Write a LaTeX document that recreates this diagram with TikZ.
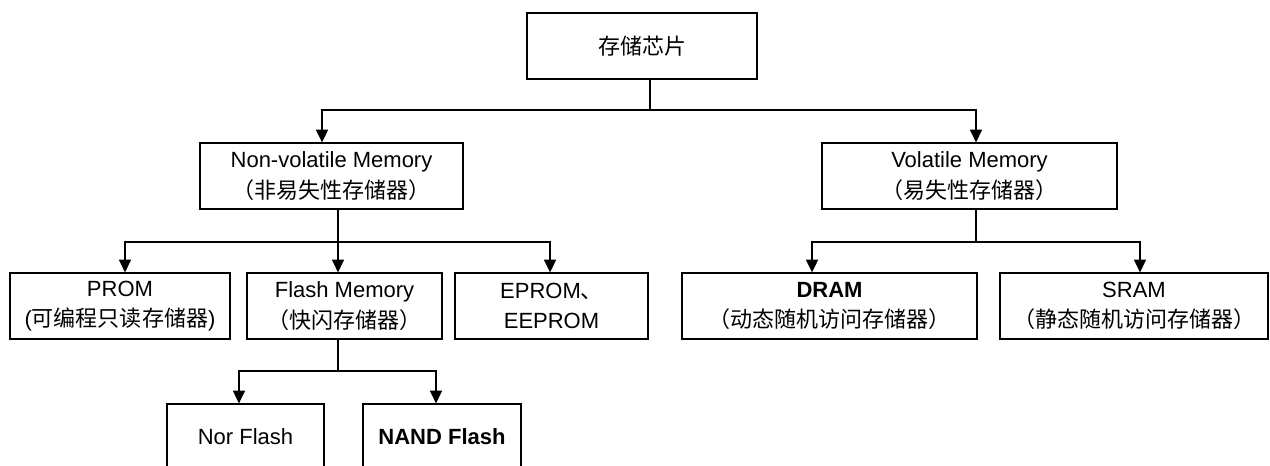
\documentclass[tikz,border=0pt]{standalone}
\usepackage{fontspec}
\setmainfont{Liberation Sans}
\newfontfamily\cjk{Noto Sans CJK SC}
\usetikzlibrary{arrows.meta}

\begin{document}
\begin{tikzpicture}[
  x=0.75pt,y=-0.75pt,
  font=\fontsize{16.5}{23}\selectfont,
  box/.style={draw,line width=0.9pt,minimum height=49.5pt,align=center,inner sep=2pt},
  ln/.style={line width=1.1pt},
  arr/.style={line width=1pt,-{Triangle[length=9.5pt,width=9pt]}},
]
\path[use as bounding box,clip] (0,0) rectangle (1270,466);
\fill[white] (0,0) rectangle (1270,466);

% Root
\node[box,minimum width=172.5pt] (chip) at (642,46) {\cjk 存储芯片};

% Second level
\node[box,minimum width=197.25pt] (nvm) at (331.5,176) {Non-volatile Memory\\{\cjk （非易失性存储器）}};
\node[box,minimum width=221.25pt] (vm) at (969.5,176) {Volatile Memory\\{\cjk （易失性存储器）}};

% Third level
\node[box,minimum width=165pt] (prom) at (120,306) {PROM\\({\cjk 可编程只读存储器})};
\node[box,minimum width=146.25pt] (flash) at (344.5,306) {Flash Memory\\{\cjk （快闪存储器）}};
\node[box,minimum width=144.75pt] (eprom) at (551.5,306) {EPROM{\cjk 、}\\EEPROM};
\node[box,minimum width=221.25pt] (dram) at (829.5,306) {\textbf{DRAM}\\{\cjk （动态随机访问存储器）}};
\node[box,minimum width=201pt] (sram) at (1134,306) {SRAM\\{\cjk （静态随机访问存储器）}};

% Flash types
\node[box,minimum width=117.75pt] (nor) at (245.5,437) {Nor Flash};
\node[box,minimum width=118.5pt] (nand) at (442,437) {\textbf{NAND Flash}};

% Branch points
\coordinate (b1) at (650,110);
\coordinate (b2) at (338,242);
\coordinate (b3) at (976,242);
\coordinate (b4) at (338,371);

% Connectors
\draw[ln] (chip.south -| b1) -- (b1);
\draw[arr] (b1) -| ([xshift=-7.1pt]nvm.north);
\draw[arr] (b1) -| (vm.north -| b3);

\draw[ln] (nvm.south -| b2) -- (b2);
\draw[arr] (b2) -| ([xshift=3.75pt]prom.north);
\draw[arr] (b2) -- (flash.north -| b2);
\draw[arr] (b2) -| ([xshift=-1.1pt]eprom.north);

\draw[ln] (vm.south -| b3) -- (b3);
\draw[arr] (b3) -| ([xshift=-13.1pt]dram.north);
\draw[arr] (b3) -| ([xshift=4.5pt]sram.north);

\draw[ln] (flash.south -| b4) -- (b4);
\draw[arr] (b4) -| ([xshift=-4.9pt]nor.north);
\draw[arr] (b4) -| ([xshift=-4.5pt]nand.north);
\end{tikzpicture}
\end{document}
